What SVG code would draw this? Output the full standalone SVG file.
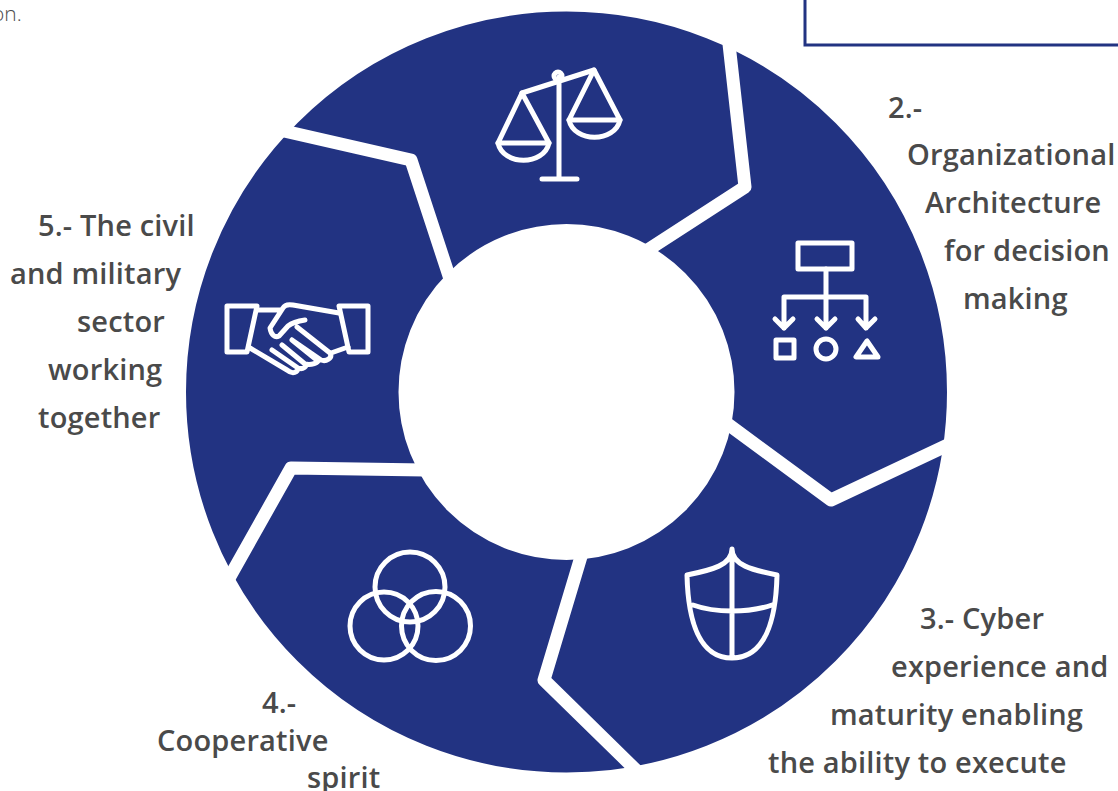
<svg xmlns="http://www.w3.org/2000/svg" width="1118" height="791" viewBox="0 0 1118 791">
<style>
.lbl{font-family:"Open Sans","Noto Sans",sans-serif;font-weight:600;font-size:29px;letter-spacing:.17px;fill:#4a4a4a}
.ic{fill:none;stroke:#fff;stroke-width:5;stroke-linecap:round;stroke-linejoin:round}
.sep{fill:none;stroke:#fff;stroke-width:13;stroke-linejoin:round;stroke-linecap:butt}
</style>
<rect width="1118" height="791" fill="#fff"/>
<text x="-8" y="21" style="font-family:'Open Sans',sans-serif;font-weight:300;font-size:21px;fill:#4d4d4d">on.</text>
<path d="M805 0V45H1118" fill="none" stroke="#223382" stroke-width="3"/>
<g id="ring">
<circle cx="566.500" cy="392" r="274.250" fill="none" stroke="#223382" stroke-width="212.500"/>
</g>
<g id="connectors">
<path class="sep" d="M729 44L745 187L640 255"/>
<path class="sep" d="M950 444L831 500L725 422"/>
<path class="sep" d="M639 773L544 680L583 550"/>
<path class="sep" d="M228 580L291 468L425 470"/>
<path class="sep" d="M284 131L411 160L451 282"/>
</g>
<g id="node1">
<g class="ic">
<path d="M559 77V179M542 179H577M522 93L594 70"/>
<circle cx="558" cy="76" r="4"/>
<path d="M522 93L498 143H549ZM594 70L569 120H620Z"/>
<path d="M498 143C503 166 544 166 549 143M569 120C574 143 615 143 620 120"/>
</g>
</g>
<g id="node2">
<g class="ic">
<rect x="798" y="243" width="54" height="26"/>
<path d="M826 269V297M784 328V297H866V328M826 297V328M775 319L784 328L793 319M817 319L826 328L835 319M858 319L866 328L875 319"/>
<rect x="776" y="340" width="18" height="18"/>
<circle cx="826" cy="349" r="10"/>
<path d="M867 341L856 357H878Z"/>
</g>
</g>
<g id="node3">
<g class="ic">
<path d="M732 549C732 565 712 570 687 575C688 620 699 658 732 658C765 658 776 620 777 575C752 570 732 565 732 549ZM732 549V658M693 605C715 613 749 613 772 605"/>
</g>
</g>
<g id="node4">
<g class="ic">
<circle cx="410" cy="587" r="35"/>
<circle cx="384" cy="626" r="34"/>
<circle cx="436" cy="626" r="34.500"/>
</g>
</g>
<g id="node5">
<g class="ic">
<path d="M227 306H257L247 352H227ZM368 306H339L349 352H368Z"/>
<path d="M257 310H280M339 313L293 305C287 304 284 306 283 308L270 328C271 335 275 338 279 336L288 326C293 322 298 321 305 320M297 327L330 353C333 358 326 362 321 360L292 340M348 347L331 353M250 348L287 370C293 375 298 372 298 368L272 350M298 368C303 370 308 366 305 364L282 345M305 364C312 366 318 362 318 361L292 340"/>
</g>
</g>
<g id="labels">
<text class="lbl" x="888" y="118">2.-</text>
<text class="lbl" x="907" y="165">Organizational</text>
<text class="lbl" x="925" y="213">Architecture</text>
<text class="lbl" x="944" y="261">for decision</text>
<text class="lbl" x="963" y="309">making</text>
<text class="lbl" x="920" y="629">3.- Cyber</text>
<text class="lbl" x="891" y="677">experience and</text>
<text class="lbl" x="830" y="725">maturity enabling</text>
<text class="lbl" x="768" y="773">the ability to execute</text>
<text class="lbl" x="262" y="713">4.-</text>
<text class="lbl" x="157" y="751">Cooperative</text>
<text class="lbl" x="307" y="788">spirit</text>
<text class="lbl" x="38" y="236">5.- The civil</text>
<text class="lbl" x="10" y="284">and military</text>
<text class="lbl" x="77" y="332">sector</text>
<text class="lbl" x="48" y="380">working</text>
<text class="lbl" x="38" y="428">together</text>
</g>
</svg>
